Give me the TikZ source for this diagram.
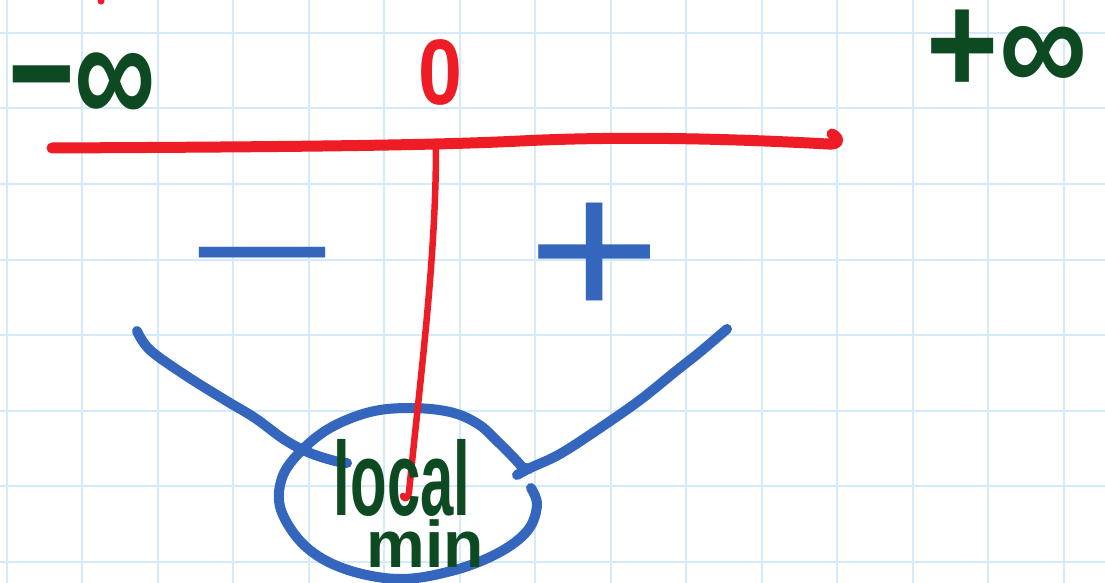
\documentclass[tikz,border=0pt]{standalone}
\usepackage{fontspec}
\newfontfamily\handfont{Liberation Sans}
\definecolor{inkgreen}{HTML}{0E4A21}
\definecolor{inkred}{HTML}{EE1C25}
\definecolor{inkblue}{HTML}{3566BE}
\definecolor{gridblue}{HTML}{D2EAF9}
\tikzset{
  gridline/.style={draw=gridblue, line width=2pt},
  redaxis/.style={draw=inkred, line width=11pt, line cap=round, line join=round},
  redthin/.style={draw=inkred, line width=6.5pt, line cap=round, line join=round},
  bluestroke/.style={draw=inkblue, line width=10pt, line cap=round, line join=round},
  greenlabel/.style={text=inkgreen, inner sep=0pt, font=\handfont\bfseries},
  bluesign/.style={text=inkblue, inner sep=0pt, font=\handfont},
  redlabel/.style={text=inkred, inner sep=0pt, font=\handfont\bfseries},
}
\begin{document}
\begin{tikzpicture}[x=1pt,y=-1pt]
\useasboundingbox (0,0) rectangle (1105,583);
\fill[white] (0,0) rectangle (1105,583);
% grid paper
\foreach \i in {0,...,14} \draw[gridline] ({6.5+75.5*\i},0) -- ({6.5+75.5*\i},583);
\foreach \j in {0,...,7} \draw[gridline] (0,{33+75.5*\j}) -- (1105,{33+75.5*\j});
% stray red mark at top
\fill[inkred] (101,1) circle (3.5);
% labels
\node[greenlabel, anchor=base] (minf) at (82,127) {\fontsize{95}{95}\selectfont\scalebox{1.2}[1.65]{−∞}};
\node[greenlabel, anchor=base] (pinf) at (1007,94) {\fontsize{95}{95}\selectfont\scalebox{1.3}[1.5]{+∞}};
\node[redlabel] (zerolabel) at (440,72) {\fontsize{93}{93}\selectfont\scalebox{0.85}[1]{0}};
% number line
\coordinate (axl) at (52,148);
\coordinate (axr) at (832,134);
\coordinate (zero) at (436,146);
\draw[redaxis] (axl) .. controls (250,147) and (420,146) .. (520,141)
  .. controls (600,137) and (700,137) .. (828,144)
  .. controls (840,145) and (840,138) .. (axr);
% signs
\node[bluesign, anchor=base] (minus) at (262,302) {\fontsize{100}{100}\selectfont\scalebox{2.6}[1.5]{−}};
\node[bluesign] (plus) at (595,261) {\fontsize{200}{200}\selectfont\scalebox{1.15}[1]{+}};
% V shaped curve
\coordinate (lstart) at (137,331);
\coordinate (rstart) at (727,329);
\draw[bluestroke] plot[smooth, tension=0.6] coordinates {(lstart) (150,350) (185,375) (225,400) (255,418) (285,440) (310,453) (335,461) (347,463)};
\draw[bluestroke] plot[smooth, tension=0.6] coordinates {(rstart) (700,352) (676,371) (640,400) (600,428) (560,454) (530,468) (517,475)};
% circle around the local min
\draw[bluestroke] plot[smooth, tension=0.6] coordinates {(531,488) (537,505) (528,530) (500,552) (455,570) (400,579) (345,569) (305,546) (281,510) (282,478) (300,452) (330,428) (370,412) (410,408) (450,412) (478,424) (498,442) (514,458) (522,467)} -- (529,469);
% red drop line
\coordinate (vend) at (409,492);
\draw[redthin] (zero) .. controls (436,260) and (420,380) .. (vend) .. controls (408,499) and (404,500) .. (403,496);
% local min text
\node[greenlabel, anchor=base] (local) at (402,515) {\fontsize{105}{105}\selectfont\scalebox{0.57}[1]{local}};
\node[greenlabel, anchor=base] (min) at (425,567) {\fontsize{66}{66}\selectfont min};
\end{tikzpicture}
\end{document}
